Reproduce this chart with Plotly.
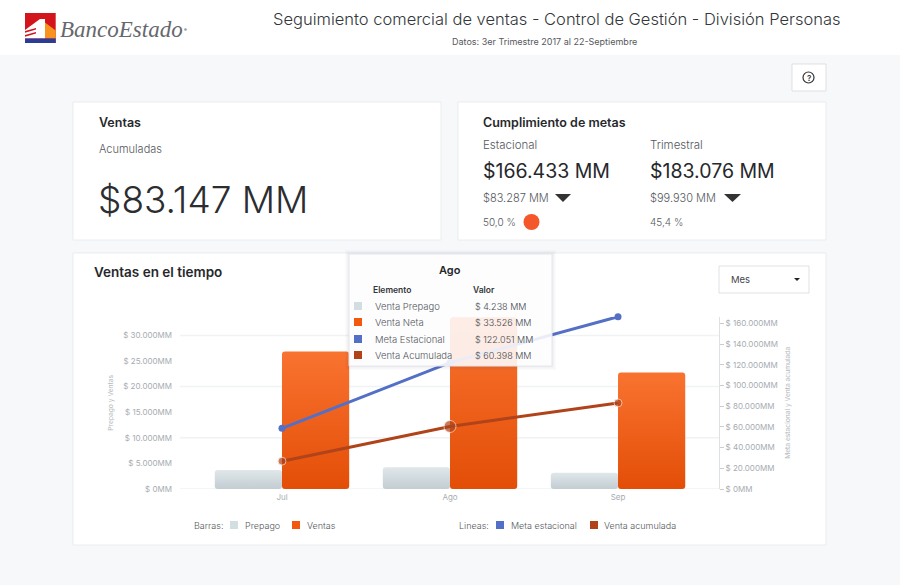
import plotly.graph_objects as go

W, H = 900, 585

# datos del grafico
meses = ['Jul', 'Ago', 'Sep']
prepago = [3700, 4238, 3180]
ventas = [26872, 33526, 22749]
meta_estacional = [58600, 122051, 166433]
venta_acumulada = [26872, 60398, 83147]

ticks_izq = [0, 5000, 10000, 15000, 20000, 25000, 30000]
ticks_der = [0, 20000, 40000, 60000, 80000, 100000, 120000, 140000, 160000]
grilla = [0, 10000, 20000, 30000]

tooltip_filas = ['Venta Prepago', 'Venta Neta', 'Meta Estacional', 'Venta Acumulada']
tooltip_valores = ['$ 4.238 MM', '$ 33.526 MM', '$ 122.051 MM', '$ 60.398 MM']

AZUL = '#5470C6'
CAFE = '#B0431A'
NARANJA = '#F2590F'
GRIS_BARRA = '#D3DEE3'
FUENTE = 'Inter'


def fmt_mm(v):
    return '$ ' + f'{v:,}'.replace(',', '.') + 'MM' if v else '$ 0MM'


def fx(x):
    return x / W


def fy(y):
    return 1 - y / H


shapes = []
annotations = []


def rect(x0, y0, x1, y1, fill, line=None, layer='below', lw=1):
    shapes.append(dict(type='rect', xref='paper', yref='paper', x0=fx(x0), x1=fx(x1), y0=fy(y0), y1=fy(y1),
                       fillcolor=fill, line=dict(color=line or 'rgba(0,0,0,0)', width=lw), layer=layer))


def path(d, fill, layer='below'):
    # d = lista de puntos en pixeles
    s = 'M ' + ' L '.join(f'{fx(x):.5f},{fy(y):.5f}' for x, y in d) + ' Z'
    shapes.append(dict(type='path', xref='paper', yref='paper', path=s, fillcolor=fill,
                       line=dict(width=0), layer=layer))


def circle(cx, cy, r, fill, line=None, layer='below', lw=1):
    shapes.append(dict(type='circle', xref='paper', yref='paper', x0=fx(cx - r), x1=fx(cx + r),
                       y0=fy(cy - r), y1=fy(cy + r), fillcolor=fill,
                       line=dict(color=line or 'rgba(0,0,0,0)', width=lw), layer=layer))


def text(x, y, s, size, color='#3A3D40', anchor='left', weight=400, family=FUENTE):
    annotations.append(dict(x=fx(x), y=fy(y), xref='paper', yref='paper', text=s, showarrow=False,
                            xanchor=anchor, yanchor='middle', borderpad=0,
                            font=dict(size=size, color=color, family=family, weight=weight)))


# fondo y encabezado
rect(0, 0, W, 55, '#FFFFFF')
text(557, 19, 'Seguimiento comercial de ventas - Control de Gestión - División Personas', 16.5,
     '#33363A', 'center', 300)
text(544, 42, 'Datos: 3er Trimestre 2017 al 22-Septiembre', 9, '#55585C', 'center')

# logo
rect(25, 13, 55.7, 43, '#D3141C')
path([(25, 30), (40, 19), (45, 19), (45, 38.5), (25, 38.5)], '#FFFFFF')
path([(45, 22.5), (55.7, 30.5), (55.7, 38.5), (45, 38.5)], '#F7931E')
path([(25, 31), (36, 28), (36, 29.5), (25, 32.8)], '#D3141C')
path([(25, 35), (36, 32), (36, 33.5), (25, 36.8)], '#D3141C')
rect(25, 38.5, 55.7, 43, '#2B3C97')
text(59, 29, '<i>BancoEstado</i>', 23, '#66686C', family='Liberation Serif')
circle(185.5, 29.5, 1.3, '#9A9CA0')

# tarjetas
for x0, y0, x1, y1 in [(73, 102, 441, 240), (458, 102, 826, 240), (73, 253, 826, 545)]:
    rect(x0, y0, x1, y1, '#FFFFFF', '#E9EDF1')

# boton ayuda
rect(792, 64, 826, 91, '#FFFFFF', '#DDE1E5')
circle(808.5, 77.5, 5.5, 'rgba(0,0,0,0)', '#333333', lw=1.2)
text(808.5, 77.8, '?', 8, '#333333', 'center', 600)

# tarjeta ventas
text(98, 122, 'Ventas', 12.5, '#26282B', weight=600)
text(98, 149, 'Acumuladas', 11, '#55585C', weight=300)
text(97, 199, '$83.147 MM', 37, '#2B2D30', weight=300)

# tarjeta metas
text(482, 122, 'Cumplimiento de metas', 12.5, '#26282B', weight=600)
text(482, 145, 'Estacional', 11.5, '#55585C', weight=300)
text(649, 145, 'Trimestral', 11.5, '#55585C', weight=300)
text(482, 171, '$166.433 MM', 19.5, '#26282B')
text(649, 171, '$183.076 MM', 19.5, '#26282B')
text(482, 198, '$83.287 MM', 11, '#55585C', weight=300)
text(649, 198, '$99.930 MM', 11, '#55585C', weight=300)
path([(555, 194), (571, 194), (563, 202)], '#333333')
path([(724, 194), (741, 194), (732.5, 202)], '#333333')
text(482, 222, '50,0 %', 10, '#55585C', weight=300)
text(649, 222, '45,4 %', 10, '#55585C', weight=300)
circle(531.5, 222, 8, '#F4572A')

# tarjeta ventas en el tiempo
text(93, 272, 'Ventas en el tiempo', 13.5, '#26282B', weight=600)
rect(719, 266, 809, 293, '#FFFFFF', '#DDE1E5')
text(730, 279, 'Mes', 9.5, '#44474B')
path([(794, 278), (800, 278), (797, 281)], '#222222')

# grilla
for g in grilla:
    shapes.append(dict(type='line', xref='paper', yref='y', x0=fx(180), x1=fx(719), y0=g, y1=g,
                       line=dict(color='#F0F2F4', width=1.5), layer='below'))

# leyenda
text(193, 525, 'Barras:', 9, '#55585C', weight=300)
rect(230, 521, 238, 529, GRIS_BARRA)
text(244, 525, 'Prepago', 9, '#55585C', weight=300)
rect(292, 521, 300, 529, NARANJA)
text(306, 525, 'Ventas', 9, '#55585C', weight=300)
text(458, 525, 'Lineas:', 9, '#55585C', weight=300)
rect(496, 521, 504, 529, AZUL)
text(510, 525, 'Meta estacional', 9, '#55585C', weight=300)
rect(590, 521, 598, 529, CAFE)
text(603, 525, 'Venta acumulada', 9, '#55585C', weight=300)

# tooltip
for i in range(4, 0, -1):
    rect(349 - i, 253 - i + 1, 552 + i, 366 + i, 'rgba(60,70,80,0.018)', layer='above')
rect(349, 254, 552, 366, 'rgba(255,255,255,0.88)', '#E4E6E8', layer='above')
text(450, 270, 'Ago', 11, '#26282B', 'center', 600)
text(372, 290, 'Elemento', 8.5, '#33363A', weight=600)
text(472, 290, 'Valor', 8.5, '#33363A', weight=600)
for yy, col, fila, valor in zip([306, 322, 339, 355], [GRIS_BARRA, NARANJA, AZUL, CAFE], tooltip_filas, tooltip_valores):
    rect(354, yy - 4, 362, yy + 4, col, layer='above')
    text(374, yy, fila, 9.5, '#55585C', weight=300)
    text(474, yy, valor, 9, '#44474B', weight=300)

fig = go.Figure()
fig.add_trace(go.Bar(x=meses, y=prepago, name='Prepago', marker=dict(color=GRIS_BARRA, line=dict(width=0)),
                     yaxis='y'))
fig.add_trace(go.Bar(x=meses, y=ventas, name='Ventas', marker=dict(color=NARANJA, line=dict(width=0)),
                     yaxis='y'))
fig.add_trace(go.Scatter(x=meses, y=meta_estacional, name='Meta estacional', yaxis='y2', mode='lines+markers',
                         line=dict(color=AZUL, width=3), marker=dict(size=7, color=AZUL), cliponaxis=False))
fig.add_trace(go.Scatter(x=meses, y=venta_acumulada, name='Venta acumulada', yaxis='y2', mode='lines+markers',
                         line=dict(color=CAFE, width=3),
                         marker=dict(size=[8, 12, 8], color=CAFE, line=dict(color='#FBE3D6', width=1)),
                         cliponaxis=False))

y_base, y_tope = 489, 316.7
tick_font = dict(size=8, color='#A6ACB1', family=FUENTE)
titulo_font = dict(size=6.7, color='#B4B9BD', family=FUENTE)

fig.update_layout(
    width=W, height=H,
    margin=dict(l=0, r=0, t=0, b=0),
    paper_bgcolor='#F6F8FA',
    plot_bgcolor='rgba(0,0,0,0)',
    showlegend=False,
    barmode='group', bargap=0.2, bargroupgap=0, barcornerradius=3,
    shapes=shapes,
    annotations=annotations,
    xaxis=dict(domain=[fx(180), fx(719)], range=[-0.607, 2.601], showgrid=False, zeroline=False,
               ticks='', tickfont=tick_font, ticklabelstandoff=2, automargin=False),
    yaxis=dict(domain=[fy(y_base), fy(y_tope)], range=[0, 33650], tickvals=ticks_izq, automargin=False,
               ticktext=[fmt_mm(v) for v in ticks_izq], showgrid=False, zeroline=False, ticks='',
               tickfont=tick_font, ticklabelstandoff=7,
               title=dict(text='Prepago y Ventas', font=titulo_font, standoff=8)),
    yaxis2=dict(overlaying='y', side='right', anchor='x', range=[0, 166433], tickvals=ticks_der, automargin=False,
                ticktext=[fmt_mm(v) for v in ticks_der], showgrid=False, zeroline=False,
                showline=True, linecolor='#DDE1E4', ticks='outside', ticklen=4, tickcolor='#C9CDD1',
                tickfont=tick_font,
                title=dict(text='Meta estacional y Venta acumulada', font=titulo_font, standoff=8)),
)

# degradado y esquinas de las barras, plotly no lo trae para go.Bar
post = """
document.documentElement.style.overflow = 'hidden';
document.body.style.margin = '0';
document.body.style.height = '585px';
document.body.style.overflow = 'hidden';
var gd = document.querySelector('.plotly-graph-div');
var svg = gd.querySelector('.main-svg');
var NS = 'http://www.w3.org/2000/svg';
function grad(id, top, bot) {
  var g = document.createElementNS(NS, 'linearGradient');
  g.setAttribute('id', id); g.setAttribute('x1', 0); g.setAttribute('x2', 0);
  g.setAttribute('y1', 0); g.setAttribute('y2', 1);
  [[0, top], [1, bot]].forEach(function (s) {
    var st = document.createElementNS(NS, 'stop');
    st.setAttribute('offset', s[0]); st.setAttribute('stop-color', s[1]);
    g.appendChild(st);
  });
  svg.querySelector('defs').appendChild(g);
}
grad('gPrepago', '#DFE7EA', '#C3CDD2');
grad('gVentas', '#F97330', '#E34E07');
var tr = gd.querySelectorAll('.barlayer .trace');
['gPrepago', 'gVentas'].forEach(function (id, i) {
  tr[i].querySelectorAll('.point path').forEach(function (p) {
    var b = p.getBBox(), r = 3;
    p.setAttribute('d', 'M' + (b.x + r) + ',' + b.y + 'H' + (b.x + b.width - r) +
      'a3,3 0 0 1 3,3V' + (b.y + b.height - r) + 'a3,3 0 0 1 -3,3H' + (b.x + r) +
      'a3,3 0 0 1 -3,-3V' + (b.y + r) + 'a3,3 0 0 1 3,-3Z');
    p.style.fill = 'url(#' + id + ')';
  });
});
"""

fig.write_html('out.html', post_script=post, config={'displayModeBar': False})
